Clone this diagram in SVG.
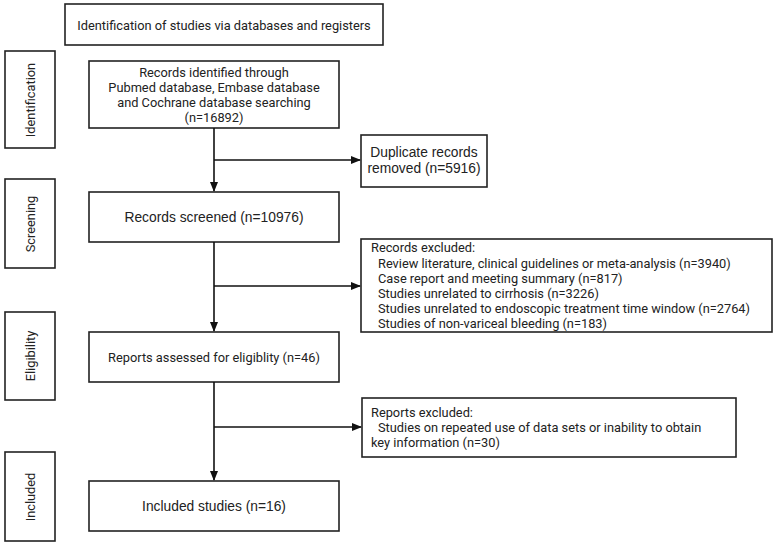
<svg xmlns="http://www.w3.org/2000/svg" width="774" height="546" viewBox="0 0 774 546">
<defs>
<marker id="arr" markerWidth="10" markerHeight="8" refX="9" refY="4" orient="auto" markerUnits="userSpaceOnUse">
<path d="M0,0 L10,4 L0,8 Z" fill="#111"/>
</marker>
<style>
rect{fill:#fff;stroke:#222;stroke-width:1.6}
.y{font-family:Roboto,"Liberation Sans",sans-serif;font-size:12.8px;fill:#222}
.a{font-family:"Liberation Sans",Arial,sans-serif;font-size:13.8px;fill:#222}
.c{text-anchor:middle}
.conn line{stroke:#111;stroke-width:1.6;fill:none}
</style>
</defs>
<rect x="0" y="0" width="774" height="546" style="stroke:none"/>
<g id="title"><rect x="65" y="4" width="318" height="41"/><text class="y c" x="224" y="30">Identification of studies via databases and registers</text></g>
<g id="side-identification"><rect x="5" y="51" width="50" height="97"/><text class="y c" transform="translate(35,100) rotate(-90)">Identification</text></g>
<g id="side-screening"><rect x="5" y="179" width="50" height="89"/><text class="y c" transform="translate(35,224) rotate(-90)">Screening</text></g>
<g id="side-eligibility"><rect x="5" y="312" width="50" height="88"/><text class="y c" transform="translate(35,356) rotate(-90)">Eligibility</text></g>
<g id="side-included"><rect x="5" y="452" width="50" height="89"/><text class="y c" transform="translate(35,497) rotate(-90)">Included</text></g>
<g id="records-identified"><rect x="89" y="61" width="250" height="67"/>
<text class="y c" x="214" y="77">Records identified through</text>
<text class="y c" x="214" y="92">Pubmed database, Embase database</text>
<text class="y c" x="214" y="107">and Cochrane database searching</text>
<text class="y c" x="214" y="122">(n=16892)</text></g>
<g id="duplicates"><rect x="361" y="135" width="126" height="52"/>
<text class="a c" x="424" y="157">Duplicate records</text>
<text class="a c" x="424" y="173">removed (n=5916)</text></g>
<g id="records-screened"><rect x="89" y="192" width="250" height="50"/><text class="a c" x="214" y="222">Records screened (n=10976)</text></g>
<g id="records-excluded"><rect x="361" y="239" width="411" height="93"/>
<text class="y" x="371" y="252">Records excluded:</text>
<text class="y" x="378" y="268">Review literature, clinical guidelines or meta-analysis (n=3940)</text>
<text class="y" x="378" y="283">Case report and meeting summary (n=817)</text>
<text class="y" x="378" y="298">Studies unrelated to cirrhosis (n=3226)</text>
<text class="y" x="378" y="313">Studies unrelated to endoscopic treatment time window (n=2764)</text>
<text class="y" x="378" y="328">Studies of non-variceal bleeding (n=183)</text></g>
<g id="reports-assessed"><rect x="89" y="332" width="250" height="50"/><text class="y c" x="214" y="362">Reports assessed for eligiblity (n=46)</text></g>
<g id="reports-excluded"><rect x="362" y="398" width="374" height="59"/>
<text class="y" x="371" y="417">Reports excluded:</text>
<text class="y" x="378" y="432">Studies on repeated use of data sets or inability to obtain</text>
<text class="y" x="371" y="447">key information (n=30)</text></g>
<g id="included"><rect x="89" y="481" width="250" height="50"/><text class="a c" x="214" y="511">Included studies (n=16)</text></g>
<g class="conn" id="connectors">
<line x1="214" y1="128" x2="214" y2="191" marker-end="url(#arr)"/>
<line x1="214" y1="160" x2="360" y2="160" marker-end="url(#arr)"/>
<line x1="214" y1="242" x2="214" y2="331" marker-end="url(#arr)"/>
<line x1="214" y1="286" x2="360" y2="286" marker-end="url(#arr)"/>
<line x1="214" y1="382" x2="214" y2="480" marker-end="url(#arr)"/>
<line x1="214" y1="427" x2="361" y2="427" marker-end="url(#arr)"/>
</g>
</svg>
